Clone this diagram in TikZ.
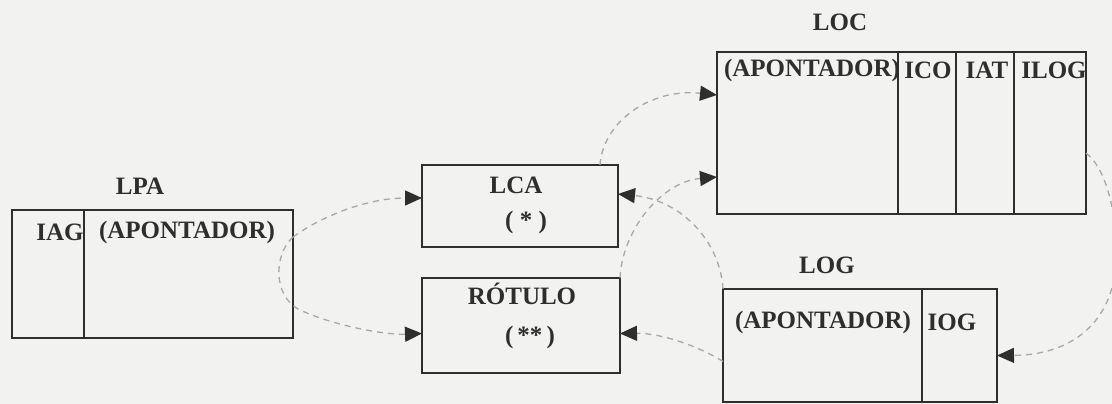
\documentclass[tikz,border=0pt]{standalone}
\usepackage{fontspec}
\setmainfont{Liberation Serif}
\usetikzlibrary{arrows.meta}
\definecolor{paper}{HTML}{F2F2F0}
\definecolor{ink}{HTML}{2E2E2E}
\definecolor{link}{HTML}{A8A8A8}
\tikzset{
  box/.style={draw=ink, line width=1.5pt, rectangle, inner sep=0pt, outer sep=0pt, anchor=north west},
  cell/.style={text=ink, font=\fontsize{25}{28}\selectfont\bfseries, inner sep=0pt},
  divider/.style={draw=ink, line width=1.5pt},
  ptr/.style={draw=link, line width=1.3pt, dash pattern=on 6pt off 5pt,
    -{Triangle[length=17pt,width=15pt,color=ink]}}
}
\begin{document}
\begin{tikzpicture}[x=1pt,y=-1pt]
\fill[paper] (0,0) rectangle (1112,404);
\useasboundingbox (0,0) rectangle (1112,404);

% LPA
\node[cell] (lpalbl) at (140,186) {LPA};
\node[box, minimum width=281pt, minimum height=128pt] (lpa) at (12,210) {};
\draw[divider] ([xshift=72pt]lpa.north west) -- ([xshift=72pt]lpa.south west);
\node[cell] (iag) at (60,232) {IAG};
\node[cell] (lpaptr) at (187,232) {(APONTADOR)};

% LCA
\node[box, minimum width=196pt, minimum height=82pt] (lca) at (422,165) {};
\node[cell] (lcalbl) at (516,185) {LCA};
\node[cell] (lcastar) at (526,222) {( * )};

% ROTULO
\node[box, minimum width=198pt, minimum height=95pt] (rot) at (422,278) {};
\node[cell] (rotlbl) at (522,294) {RÓTULO};
\node[cell] (rotstar) at (530,337) {(\,**\,)};

% LOC
\node[cell] (loclbl) at (840,22) {LOC};
\node[box, minimum width=369pt, minimum height=162pt] (loc) at (717,52) {};
\draw[divider] ([xshift=181pt]loc.north west) -- ([xshift=181pt]loc.south west);
\draw[divider] ([xshift=239pt]loc.north west) -- ([xshift=239pt]loc.south west);
\draw[divider] ([xshift=297pt]loc.north west) -- ([xshift=297pt]loc.south west);
\node[cell] (locptr) at (812,70) {(APONTADOR)};
\node[cell] (ico) at (928,70) {ICO};
\node[cell] (iat) at (987,70) {IAT};
\node[cell] (ilog) at (1054,70) {ILOG};

% LOG
\node[cell] (loglbl) at (827,265) {LOG};
\node[box, minimum width=274pt, minimum height=113pt] (log) at (723,289) {};
\draw[divider] ([xshift=199pt]log.north west) -- ([xshift=199pt]log.south west);
\node[cell] (logptr) at (823,322) {(APONTADOR)};
\node[cell] (iog) at (952,322) {IOG};

% pointers
\coordinate (lpaout) at ([yshift=-27pt]lpa.north east);
\draw[ptr] (lpaout) .. controls (325,214) and (370,198) .. ([yshift=8pt]lca.west);
\draw[ptr] (lpaout) .. controls (274,254) and (272,296) .. (300,310)
  .. controls (335,326) and (385,335) .. ([yshift=-8pt]rot.west);
\draw[ptr] ([xshift=-18pt]lca.north east) .. controls (603,122) and (650,88) .. ([yshift=38pt]loc.west);
\draw[ptr] (rot.north east) .. controls (622,232) and (660,182) .. ([yshift=-44pt]loc.west);
\draw[ptr] (log.north west) .. controls (720,240) and (680,200) .. ([yshift=12pt]lca.east);
\draw[ptr] ([yshift=-16pt]log.west) .. controls (700,347) and (662,333) .. ([yshift=-8pt]rot.east);
\draw[ptr] ([yshift=-20pt]loc.east) .. controls (1108,170) and (1118,220) .. (1116,262)
  .. controls (1113,322) and (1072,355) .. ([yshift=-10pt]log.east);
\end{tikzpicture}
\end{document}
